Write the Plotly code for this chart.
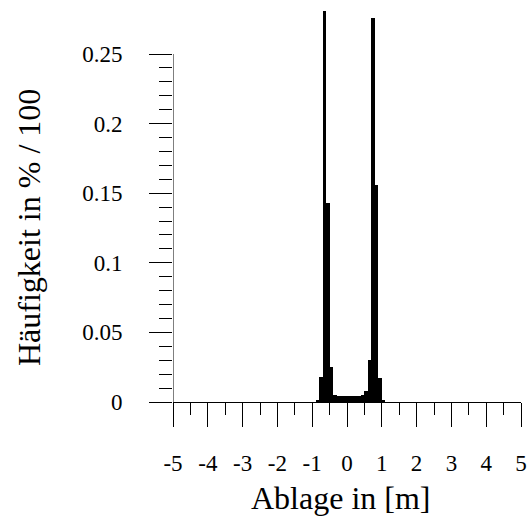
import plotly.graph_objects as go

# Histogram of lateral offset (bin centres in m, 0.1 m wide bins)
ablage = [-0.85, -0.75, -0.65, -0.55, -0.45, -0.35, -0.25, -0.15, -0.05, 0.05,
          0.15, 0.25, 0.35, 0.45, 0.55, 0.65, 0.75, 0.85, 0.95, 1.05]
haeufigkeit = [0.0015, 0.018, 0.281, 0.143, 0.025, 0.005, 0.004, 0.004, 0.004, 0.004,
               0.004, 0.0045, 0.0045, 0.005, 0.008, 0.030, 0.276, 0.156, 0.017, 0.0017]

x_ticks = [-5, -4, -3, -2, -1, 0, 1, 2, 3, 4, 5]
x_ticktext = ["-5", "-4", "-3", "-2", "-1", "0", "1", "2", "3", "4", "5"]
x_minor = [-4.5, -3.5, -2.5, -1.5, -0.5, 0.5, 1.5, 2.5, 3.5, 4.5]
y_ticks = [0, 0.05, 0.1, 0.15, 0.2, 0.25]
y_ticktext = ["0", "0.05", "0.1", "0.15", "0.2", "0.25"]
y_minor = [v / 100 for v in range(1, 25) if v % 5 != 0]

FONT = "Liberation Serif, Times New Roman, serif"

fig = go.Figure(
    go.Bar(
        x=ablage,
        y=haeufigkeit,
        width=0.1,
        marker=dict(color="black", line=dict(width=0)),
    )
)

fig.update_layout(
    width=532,
    height=517,
    margin=dict(l=173, r=9, t=5, b=115),
    paper_bgcolor="white",
    plot_bgcolor="white",
    showlegend=False,
    bargap=0,
    font=dict(family=FONT, size=23, color="black"),
    xaxis=dict(
        range=[-5, 5],
        tickmode="array",
        tickvals=x_ticks,
        ticktext=x_ticktext,
        ticks="outside",
        ticklen=24,
        tickwidth=1,
        tickcolor="black",
        ticklabelstandoff=16,
        showline=True,
        linecolor="black",
        linewidth=1,
        showgrid=False,
        zeroline=False,
        minor=dict(tickvals=x_minor, ticks="outside", ticklen=12,
                   tickwidth=1, tickcolor="black", showgrid=False),
    ),
    yaxis=dict(
        range=[0, 0.2852],
        tickmode="array",
        tickvals=y_ticks,
        ticktext=y_ticktext,
        ticks="outside",
        ticklen=23,
        tickwidth=1,
        tickcolor="black",
        ticklabelstandoff=22,
        showline=False,
        showgrid=False,
        zeroline=False,
        minor=dict(tickvals=y_minor, ticks="outside", ticklen=13,
                   tickwidth=1, tickcolor="black", showgrid=False),
    ),
    shapes=[
        # vertical axis line, drawn only over the labelled range
        dict(type="line", xref="x", yref="y", x0=-5, x1=-5, y0=0, y1=0.25,
             line=dict(color="black", width=1)),
    ],
    annotations=[
        dict(text="Ablage in [m]", xref="x", yref="paper", x=0, y=0,
             xshift=-6, yshift=-96, xanchor="center", yanchor="middle",
             showarrow=False, font=dict(family=FONT, size=32, color="black")),
        dict(text="Häufigkeit in % / 100", xref="paper", yref="y", x=0, y=0.125,
             xshift=-144, xanchor="center", yanchor="middle", textangle=-90,
             showarrow=False, font=dict(family=FONT, size=32, color="black")),
    ],
)

fig.write_html("out.html")
